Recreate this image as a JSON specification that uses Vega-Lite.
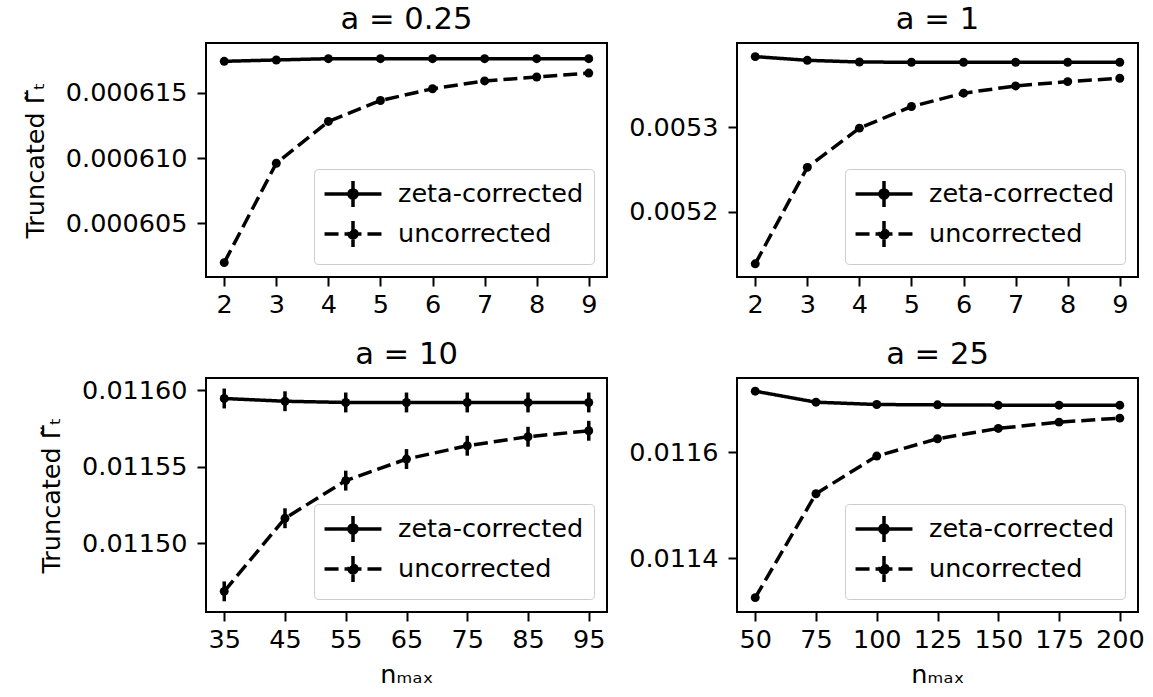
{
  "$schema": "https://vega.github.io/schema/vega-lite/v6.json",
  "padding": {"left": 22, "top": 4, "right": 5, "bottom": 5},
  "background": "white",
  "data": {"values": [
    {"p": "A", "n": 2, "s": "zeta-corrected", "v": 0.0006174, "e": 0.0000001},
    {"p": "A", "n": 3, "s": "zeta-corrected", "v": 0.0006175, "e": 0.0000001},
    {"p": "A", "n": 4, "s": "zeta-corrected", "v": 0.0006176, "e": 0.0000001},
    {"p": "A", "n": 5, "s": "zeta-corrected", "v": 0.0006176, "e": 0.0000001},
    {"p": "A", "n": 6, "s": "zeta-corrected", "v": 0.0006176, "e": 0.0000001},
    {"p": "A", "n": 7, "s": "zeta-corrected", "v": 0.0006176, "e": 0.0000001},
    {"p": "A", "n": 8, "s": "zeta-corrected", "v": 0.0006176, "e": 0.0000001},
    {"p": "A", "n": 9, "s": "zeta-corrected", "v": 0.0006176, "e": 0.0000001},
    {"p": "A", "n": 2, "s": "uncorrected", "v": 0.000602, "e": 0.0000001},
    {"p": "A", "n": 3, "s": "uncorrected", "v": 0.0006096, "e": 0.0000001},
    {"p": "A", "n": 4, "s": "uncorrected", "v": 0.0006128, "e": 0.0000001},
    {"p": "A", "n": 5, "s": "uncorrected", "v": 0.0006144, "e": 0.0000001},
    {"p": "A", "n": 6, "s": "uncorrected", "v": 0.0006153, "e": 0.0000001},
    {"p": "A", "n": 7, "s": "uncorrected", "v": 0.0006159, "e": 0.0000001},
    {"p": "A", "n": 8, "s": "uncorrected", "v": 0.0006162, "e": 0.0000001},
    {"p": "A", "n": 9, "s": "uncorrected", "v": 0.0006165, "e": 0.0000001},
    {"p": "B", "n": 2, "s": "zeta-corrected", "v": 0.0053839, "e": 0.000001},
    {"p": "B", "n": 3, "s": "zeta-corrected", "v": 0.0053795, "e": 0.000001},
    {"p": "B", "n": 4, "s": "zeta-corrected", "v": 0.0053775, "e": 0.000001},
    {"p": "B", "n": 5, "s": "zeta-corrected", "v": 0.0053772, "e": 0.000001},
    {"p": "B", "n": 6, "s": "zeta-corrected", "v": 0.0053772, "e": 0.000001},
    {"p": "B", "n": 7, "s": "zeta-corrected", "v": 0.0053772, "e": 0.000001},
    {"p": "B", "n": 8, "s": "zeta-corrected", "v": 0.0053772, "e": 0.000001},
    {"p": "B", "n": 9, "s": "zeta-corrected", "v": 0.0053772, "e": 0.000001},
    {"p": "B", "n": 2, "s": "uncorrected", "v": 0.0051386, "e": 0.000001},
    {"p": "B", "n": 3, "s": "uncorrected", "v": 0.0052528, "e": 0.000001},
    {"p": "B", "n": 4, "s": "uncorrected", "v": 0.0052992, "e": 0.000001},
    {"p": "B", "n": 5, "s": "uncorrected", "v": 0.0053248, "e": 0.000001},
    {"p": "B", "n": 6, "s": "uncorrected", "v": 0.0053406, "e": 0.000001},
    {"p": "B", "n": 7, "s": "uncorrected", "v": 0.0053492, "e": 0.000001},
    {"p": "B", "n": 8, "s": "uncorrected", "v": 0.0053543, "e": 0.000001},
    {"p": "B", "n": 9, "s": "uncorrected", "v": 0.0053583, "e": 0.000001},
    {"p": "C", "n": 35, "s": "zeta-corrected", "v": 0.0115946, "e": 0.0000065},
    {"p": "C", "n": 45, "s": "zeta-corrected", "v": 0.0115928, "e": 0.0000065},
    {"p": "C", "n": 55, "s": "zeta-corrected", "v": 0.011592, "e": 0.0000065},
    {"p": "C", "n": 65, "s": "zeta-corrected", "v": 0.011592, "e": 0.0000065},
    {"p": "C", "n": 75, "s": "zeta-corrected", "v": 0.011592, "e": 0.0000065},
    {"p": "C", "n": 85, "s": "zeta-corrected", "v": 0.011592, "e": 0.0000065},
    {"p": "C", "n": 95, "s": "zeta-corrected", "v": 0.011592, "e": 0.0000065},
    {"p": "C", "n": 35, "s": "uncorrected", "v": 0.0114685, "e": 0.0000065},
    {"p": "C", "n": 45, "s": "uncorrected", "v": 0.0115163, "e": 0.0000065},
    {"p": "C", "n": 55, "s": "uncorrected", "v": 0.0115409, "e": 0.0000065},
    {"p": "C", "n": 65, "s": "uncorrected", "v": 0.011555, "e": 0.0000065},
    {"p": "C", "n": 75, "s": "uncorrected", "v": 0.0115637, "e": 0.0000065},
    {"p": "C", "n": 85, "s": "uncorrected", "v": 0.0115696, "e": 0.0000065},
    {"p": "C", "n": 95, "s": "uncorrected", "v": 0.0115735, "e": 0.0000065},
    {"p": "D", "n": 50, "s": "zeta-corrected", "v": 0.0117151, "e": 0.0000015},
    {"p": "D", "n": 75, "s": "zeta-corrected", "v": 0.0116943, "e": 0.0000015},
    {"p": "D", "n": 100, "s": "zeta-corrected", "v": 0.0116899, "e": 0.0000015},
    {"p": "D", "n": 125, "s": "zeta-corrected", "v": 0.0116893, "e": 0.0000015},
    {"p": "D", "n": 150, "s": "zeta-corrected", "v": 0.0116887, "e": 0.0000015},
    {"p": "D", "n": 175, "s": "zeta-corrected", "v": 0.0116887, "e": 0.0000015},
    {"p": "D", "n": 200, "s": "zeta-corrected", "v": 0.0116887, "e": 0.0000015},
    {"p": "D", "n": 50, "s": "uncorrected", "v": 0.0113252, "e": 0.0000015},
    {"p": "D", "n": 75, "s": "uncorrected", "v": 0.0115214, "e": 0.0000015},
    {"p": "D", "n": 100, "s": "uncorrected", "v": 0.0115925, "e": 0.0000015},
    {"p": "D", "n": 125, "s": "uncorrected", "v": 0.0116252, "e": 0.0000015},
    {"p": "D", "n": 150, "s": "uncorrected", "v": 0.0116447, "e": 0.0000015},
    {"p": "D", "n": 175, "s": "uncorrected", "v": 0.0116566, "e": 0.0000015},
    {"p": "D", "n": 200, "s": "uncorrected", "v": 0.0116642, "e": 0.0000015}
  ]},
  "columns": 2,
  "spacing": {"row": 20, "column": 19},
  "resolve": {"scale": {"strokeDash": "independent"}, "legend": {"strokeDash": "independent"}},
  "concat": [
    {
      "title": "a = 0.25",
      "width": 401, "height": 234,
      "transform": [{"filter": "datum.p == 'A'"}],
      "encoding": {
        "x": {"field": "n", "type": "quantitative", "scale": {"domain": [1.65, 9.35], "nice": false, "zero": false}, "axis": {"values": [2,3,4,5,6,7,8,9], "format": "d", "title": null}},
        "y": {"field": "v", "type": "quantitative", "scale": {"domain": [0.0006009, 0.0006188], "nice": false, "zero": false}, "axis": {"values": [0.000605, 0.00061, 0.000615], "format": ".6f", "title": "Truncated Γ̃ₜ"}}
      },
      "layer": [
        {"mark": {"type": "errorbar", "ticks": false, "color": "black", "thickness": 3.5}, "encoding": {"yError": {"field": "e"}, "detail": {"field": "s"}}},
        {"mark": {"type": "line", "color": "black", "strokeWidth": 3.5}, "encoding": {"strokeDash": {"field": "s", "type": "nominal", "scale": {"domain": ["zeta-corrected", "uncorrected"], "range": [[1, 0], [14, 6]]}, "legend": {"title": null}}}},
        {"mark": {"type": "point", "filled": true, "color": "black", "size": 80, "opacity": 1}, "encoding": {}}
      ]
    },
    {
      "title": "a = 1",
      "width": 401, "height": 234,
      "transform": [{"filter": "datum.p == 'B'"}],
      "encoding": {
        "x": {"field": "n", "type": "quantitative", "scale": {"domain": [1.65, 9.35], "nice": false, "zero": false}, "axis": {"values": [2,3,4,5,6,7,8,9], "format": "d", "title": null}},
        "y": {"field": "v", "type": "quantitative", "scale": {"domain": [0.005123, 0.0054], "nice": false, "zero": false}, "axis": {"values": [0.0052, 0.0053], "format": ".4f", "title": null}}
      },
      "layer": [
        {"mark": {"type": "errorbar", "ticks": false, "color": "black", "thickness": 3.5}, "encoding": {"yError": {"field": "e"}, "detail": {"field": "s"}}},
        {"mark": {"type": "line", "color": "black", "strokeWidth": 3.5}, "encoding": {"strokeDash": {"field": "s", "type": "nominal", "scale": {"domain": ["zeta-corrected", "uncorrected"], "range": [[1, 0], [14, 6]]}, "legend": {"title": null}}}},
        {"mark": {"type": "point", "filled": true, "color": "black", "size": 80, "opacity": 1}, "encoding": {}}
      ]
    },
    {
      "title": "a = 10",
      "width": 401, "height": 234,
      "transform": [{"filter": "datum.p == 'C'"}],
      "encoding": {
        "x": {"field": "n", "type": "quantitative", "scale": {"domain": [32, 98], "nice": false, "zero": false}, "axis": {"values": [35,45,55,65,75,85,95], "format": "d", "title": "nₘₐₓ"}},
        "y": {"field": "v", "type": "quantitative", "scale": {"domain": [0.011455, 0.011608], "nice": false, "zero": false}, "axis": {"values": [0.0115, 0.01155, 0.0116], "format": ".5f", "title": "Truncated Γ̃ₜ"}}
      },
      "layer": [
        {"mark": {"type": "errorbar", "ticks": false, "color": "black", "thickness": 3.5}, "encoding": {"yError": {"field": "e"}, "detail": {"field": "s"}}},
        {"mark": {"type": "line", "color": "black", "strokeWidth": 3.5}, "encoding": {"strokeDash": {"field": "s", "type": "nominal", "scale": {"domain": ["zeta-corrected", "uncorrected"], "range": [[1, 0], [14, 6]]}, "legend": {"title": null}}}},
        {"mark": {"type": "point", "filled": true, "color": "black", "size": 80, "opacity": 1}, "encoding": {}}
      ]
    },
    {
      "title": "a = 25",
      "width": 401, "height": 234,
      "transform": [{"filter": "datum.p == 'D'"}],
      "encoding": {
        "x": {"field": "n", "type": "quantitative", "scale": {"domain": [42.5, 207.5], "nice": false, "zero": false}, "axis": {"values": [50,75,100,125,150,175,200], "format": "d", "title": "nₘₐₓ"}},
        "y": {"field": "v", "type": "quantitative", "scale": {"domain": [0.011298, 0.01174], "nice": false, "zero": false}, "axis": {"values": [0.0114, 0.0116], "format": ".4f", "title": null}}
      },
      "layer": [
        {"mark": {"type": "errorbar", "ticks": false, "color": "black", "thickness": 3.5}, "encoding": {"yError": {"field": "e"}, "detail": {"field": "s"}}},
        {"mark": {"type": "line", "color": "black", "strokeWidth": 3.5}, "encoding": {"strokeDash": {"field": "s", "type": "nominal", "scale": {"domain": ["zeta-corrected", "uncorrected"], "range": [[1, 0], [14, 6]]}, "legend": {"title": null}}}},
        {"mark": {"type": "point", "filled": true, "color": "black", "size": 80, "opacity": 1}, "encoding": {}}
      ]
    }
  ],
  "config": {
    "font": "DejaVu Sans",
    "view": {"stroke": "black", "strokeWidth": 2},
    "axis": {"domain": false, "grid": false, "ticks": true, "tickColor": "black", "tickSize": 9, "tickWidth": 2, "labelFontSize": 25.5, "labelColor": "black", "labelFont": "DejaVu Sans", "titleFont": "DejaVu Sans", "titleFontSize": 25.5, "titleColor": "black", "titleFontWeight": "normal", "labelFlush": false},
    "axisY": {"titlePadding": 17, "labelPadding": 10},
    "axisX": {"titlePadding": 10, "labelPadding": 6},
    "title": {"fontSize": 30.6, "fontWeight": "normal", "font": "DejaVu Sans", "color": "black", "offset": 7},
    "legend": {"orient": "bottom-right", "offset": 13, "padding": 10, "fillColor": "rgba(255,255,255,0.8)", "strokeColor": "#cccccc", "cornerRadius": 4, "labelFontSize": 25.5, "labelColor": "black", "labelFont": "DejaVu Sans", "labelLimit": 400, "symbolType": "M-2.19,0H0M2.19,0H0M0,-1V0M0,1V0M0.31,0A0.31,0.31 0 1,1 -0.31,0A0.31,0.31 0 1,1 0.31,0Z", "symbolSize": 676, "symbolStrokeColor": "black", "symbolFillColor": "black", "symbolStrokeWidth": 3.5, "symbolOffset": 14, "labelOffset": 30, "rowPadding": 0}
  }
}
